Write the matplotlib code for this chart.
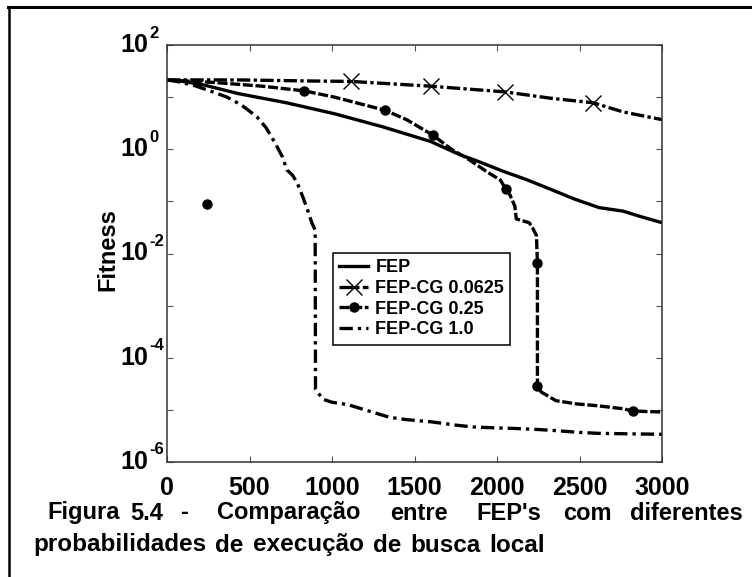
import numpy as np
import matplotlib
matplotlib.use("Agg")
import matplotlib.pyplot as plt
from matplotlib.lines import Line2D
from matplotlib import transforms

plt.rcParams['font.family'] = ['Liberation Sans', 'DejaVu Sans']
plt.rcParams['font.weight'] = 'bold'

# Data (generations vs fitness)
fep_x = [0, 100, 227, 431, 723, 1015, 1306, 1598, 1773, 1889, 2035, 2181, 2326, 2472, 2618, 2764, 2880, 3000]
fep_y = [21.4, 20, 17, 11.7, 7.8, 4.8, 2.7, 1.41, 0.79, 0.58, 0.38, 0.26, 0.17, 0.11, 0.076, 0.065, 0.050, 0.039]

cg0625_x = [0, 431, 869, 1117, 1598, 2048, 2327, 2582, 2764, 3000]
cg0625_y = [21.4, 21.4, 20.4, 20.0, 16.2, 12.6, 9.5, 7.8, 5.2, 3.7]
cg0625_marks = [3, 4, 5, 7]

cg025_x = [0, 286, 577, 831, 1015, 1321, 1452, 1612, 1720, 1831, 1947, 2020, 2055, 2079, 2108, 2117,
           2195, 2216, 2239, 2245, 2245, 2268, 2357, 2483, 2609, 2764, 2824, 3000]
cg025_y = [21.4, 19.1, 16.2, 13.2, 10.0, 5.6, 3.7, 1.86, 1.02, 0.63, 0.355, 0.257, 0.17, 0.132, 0.081, 0.046,
           0.039, 0.031, 0.022, 0.0066, 2.9e-5, 2.2e-5, 1.5e-5, 1.3e-5, 1.2e-5, 1.05e-5, 9.5e-6, 9.1e-6]
cg025_marks = [3, 5, 7, 12, 19, 20, 26]
stray_x = [242]
stray_y = [0.09]

cg1_x = [0, 60, 158, 260, 364, 450, 545, 600, 655, 700, 727, 760, 788, 824, 850, 879, 898, 900, 945, 1000,
         1097, 1200, 1349, 1450, 1601, 1750, 1853, 2000, 2105, 2250, 2357, 2500, 2609, 2800, 3000]
cg1_y = [21.4, 20, 17, 13.2, 10, 7.1, 4.2, 2.6, 1.32, 0.71, 0.40, 0.32, 0.23, 0.12, 0.071, 0.038, 0.028,
         2.5e-5, 1.6e-5, 1.4e-5, 1.26e-5, 1.0e-5, 7.2e-6, 6.5e-6, 5.9e-6, 5.1e-6, 4.7e-6, 4.5e-6, 4.4e-6,
         4.2e-6, 4.0e-6, 3.7e-6, 3.55e-6, 3.47e-6, 3.4e-6]

xticks = [0, 500, 1000, 1500, 2000, 2500, 3000]
ydecades = [1e-6, 1e-5, 1e-4, 1e-3, 1e-2, 1e-1, 1e0, 1e1, 1e2]
ylab_vals = [1e-6, 1e-4, 1e-2, 1e0, 1e2]
ylab_exps = ['-6', '-4', '-2', '0', '2']

caption1 = [("Figura", 47), ("5.4", 130), ("-", 180), ("Comparação", 217), ("entre", 390),
            ("FEP's", 476), ("com", 563), ("diferentes", 630)]
caption2 = ["probabilidades", "de", "execução", "de", "busca", "local"]

W, H = 752, 577
fig = plt.figure(figsize=(W / 100, H / 100), dpi=100)
ax = fig.add_axes([167 / W, 1 - 462 / H, 495 / W, 417 / H])

lw = 2.4
ax.plot(fep_x, fep_y, color='black', lw=lw, label='FEP')
ax.plot(cg0625_x, cg0625_y, color='black', lw=lw, dashes=(4, 1, 1, 1), marker='x', ms=11, mew=1.0,
        markevery=cg0625_marks, label='FEP-CG 0.0625')
ax.plot(cg025_x, cg025_y, color='black', lw=lw, dashes=(3, 0.8), marker='o', ms=6.5,
        markevery=cg025_marks, label='FEP-CG 0.25')
ax.plot(stray_x, stray_y, 'o', color='black', ms=6.5)
ax.plot(cg1_x, cg1_y, color='black', lw=lw, dashes=(4, 1.5, 1, 1.5), label='FEP-CG 1.0')

ax.set_yscale('log')
ax.set_xlim(0, 3000)
ax.set_ylim(1e-6, 1e2)
ax.set_xticks(xticks)
ax.set_xticklabels([str(t) for t in xticks])
ax.set_yticks(ydecades)
ax.set_yticklabels([])
ax.yaxis.set_minor_locator(matplotlib.ticker.NullLocator())
ax.tick_params(direction='in', length=4, width=0.8, color='#555555', top=True, right=True)
ax.tick_params(axis='x', pad=10, labelsize=18)
for s in ax.spines.values():
    s.set_linewidth(1.1)
    s.set_color('#333333')

# y tick labels drawn as "10" plus a raised exponent
ytr = transforms.blended_transform_factory(fig.transFigure, ax.transData)
for v, e in zip(ylab_vals, ylab_exps):
    ax.text(148 / W, v, '10', transform=ytr, ha='right', va='center', fontsize=18,
            fontweight='bold', clip_on=False)
    t2 = ax.text(149 / W, v, e, transform=ytr, ha='left', va='center', fontsize=12,
                 fontweight='bold', clip_on=False)
    t2.set_transform(ytr + transforms.ScaledTranslation(0, 12 / 100, fig.dpi_scale_trans))

leg = ax.legend(loc='upper left', bbox_to_anchor=(0.335, 0.501), borderaxespad=0, fancybox=False,
                edgecolor='black', framealpha=1, fontsize=13, handlelength=1.6, handletextpad=0.4,
                labelspacing=0.2, borderpad=0.35)
leg.get_frame().set_linewidth(1.1)

fig.text(108 / W, 1 - 250 / H, 'Fitness', rotation=90, ha='center', va='center', fontsize=17,
         fontweight='bold')

for word, xp in caption1:
    fig.text(xp / W, 1 - 513 / H, word, ha='left', va='center', fontsize=17, fontweight='bold')

# second caption line: words laid out left to right with a fixed gap
renderer = fig.canvas.get_renderer()
xp = 33
for word in caption2:
    t = fig.text(xp / W, 1 - 545 / H, word, ha='left', va='center', fontsize=17.5, fontweight='bold')
    xp += t.get_window_extent(renderer).width + 9

fig.add_artist(Line2D([8 / W, 1], [1 - 7 / H, 1 - 7 / H], color='black', lw=2.2,
                      transform=fig.transFigure))
fig.add_artist(Line2D([9 / W, 9 / W], [0, 1 - 7 / H], color='black', lw=1.8,
                      transform=fig.transFigure))

fig.savefig('out.png', dpi=100)
